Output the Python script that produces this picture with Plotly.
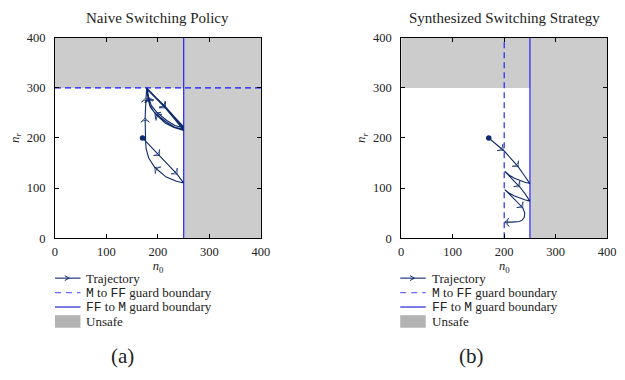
import plotly.graph_objects as go

# ---------------- data ----------------
axis_ticks = [0, 100, 200, 300, 400]
axis_max = 400

# Naive policy guards
naive_m_to_ff_nr = 300      # dashed horizontal guard (n_r)
naive_ff_to_m_n0 = 250      # solid vertical guard (n_0)
# Synthesized strategy guards
synth_m_to_ff_n0 = 200      # dashed vertical guard (n_0)
synth_ff_to_m_n0 = 250      # solid vertical guard (n_0)
# Unsafe region limits
unsafe_n0 = 250
unsafe_nr = 300

# Naive trajectory; arrow flags mark arrowhead positions
naive_x = [170, 186, 203, 220, 237, 250,
           236, 216, 194, 182, 177, 176, 175.5, 175, 176, 176.5, 178,
           196, 214, 232, 250,
           232, 216, 194, 184, 180.5, 178,
           196, 214, 232, 250,
           231, 214, 196, 185, 181, 179,
           197, 215, 233, 250,
           233, 217, 198, 187, 182, 179,
           197, 214, 232, 250]
naive_y = [200, 182.5, 165, 146.5, 128, 110,
           113.5, 122, 141, 160, 178, 193, 215, 240, 262, 280, 300,
           280, 262, 240, 217,
           222, 232, 250, 265, 280, 298,
           279, 260, 238, 215,
           221, 230, 247, 262, 278, 298,
           279, 261, 240, 220,
           225, 235, 251, 265, 281, 299,
           280, 263, 242, 222]
naive_arrow = [0, 0, 1, 0, 1, 0,
               0, 0, 1, 0, 0, 0, 0, 1, 0, 1, 0,
               0, 1, 0, 0,
               0, 0, 1, 0, 1, 0,
               0, 1, 0, 0,
               0, 0, 1, 0, 0, 0,
               0, 0, 0, 0,
               0, 0, 0, 0, 1, 0,
               0, 0, 0, 0]

# Synthesized trajectory
synth_x = [170, 185, 198, 201,
           214, 227, 239, 250,
           240, 230, 220, 210.8, 205, 201,
           215, 230, 240, 250,
           240, 230, 220, 211, 201,
           212, 224, 236, 240, 239, 235, 229.8, 215, 201]
synth_y = [200, 187, 175.5, 173,
           158, 142.7, 125, 109,
           111.5, 115.4, 119.5, 125, 129, 133.5,
           118.5, 102.6, 89.5, 74,
           76.5, 80, 84, 89, 97,
           86, 74, 60.8, 50, 41.6, 36, 33.3, 32, 32]
synth_arrow = [0, 0, 1, 0,
               0, 1, 0, 0,
               0, 0, 0, 0, 0, 0,
               0, 1, 0, 0,
               0, 0, 0, 0, 0,
               0, 0, 1, 0, 0, 0, 0, 0, 1]

titles = ["Naive Switching Policy", "Synthesized Switching Strategy"]
panel_labels = ["(a)", "(b)"]
MONO = "<span style='font-family:Liberation Mono'>%s</span>"
legend_names = ["Trajectory",
                MONO % "M" + " to " + MONO % "FF" + " guard boundary",
                MONO % "FF" + " to " + MONO % "M" + " guard boundary",
                "Unsafe"]

# ---------------- styles ----------------
FONT = "Liberation Serif"
TXT = "#222222"
TRAJ = "#0d2a6b"
GUARD = "#1414ff"
GUARD_LEG_DASH = "#6a6aff"
GUARD_LEG_SOLID = "#1010c8"
UNSAFE = "#cccccc"
UNSAFE_LEG = "#b3b3b3"
W, H = 625, 380

fig = go.Figure()


def add_panel(xa, ya, m2ff_kind, m2ff_val, ff2m_val, tx, ty, tarrow):
    ux = [0, unsafe_n0, unsafe_n0, axis_max, axis_max, 0, 0]
    uy = [unsafe_nr, unsafe_nr, 0, 0, axis_max, axis_max, unsafe_nr]
    fig.add_trace(go.Scatter(x=ux, y=uy, fill="toself", fillcolor=UNSAFE,
                             mode="lines", line=dict(width=0, color=UNSAFE),
                             name="Unsafe", showlegend=False,
                             xaxis=xa, yaxis=ya, hoverinfo="skip"))
    if m2ff_kind == "h":
        gx, gy = [0, axis_max], [m2ff_val, m2ff_val]
    else:
        gx, gy = [m2ff_val, m2ff_val], [0, axis_max]
    fig.add_trace(go.Scatter(x=gx, y=gy, mode="lines",
                             line=dict(color=GUARD, width=1.1, dash="6px,4px"),
                             showlegend=False, xaxis=xa, yaxis=ya, hoverinfo="skip"))
    fig.add_trace(go.Scatter(x=[ff2m_val, ff2m_val], y=[0, axis_max], mode="lines",
                             line=dict(color=GUARD, width=1.1),
                             showlegend=False, xaxis=xa, yaxis=ya, hoverinfo="skip"))
    sizes = [6 if a else 0 for a in tarrow]
    fig.add_trace(go.Scatter(x=tx, y=ty, mode="lines+markers",
                             line=dict(color=TRAJ, width=1.1),
                             marker=dict(symbol="arrow-wide-open", size=sizes,
                                         angleref="previous", color=TRAJ,
                                         line=dict(color=TRAJ, width=1)),
                             showlegend=False, xaxis=xa, yaxis=ya, hoverinfo="skip"))
    fig.add_trace(go.Scatter(x=tx[:1], y=ty[:1], mode="markers",
                             marker=dict(color=TRAJ, size=5.5),
                             showlegend=False, xaxis=xa, yaxis=ya, hoverinfo="skip"))


add_panel("x", "y", "h", naive_m_to_ff_nr, naive_ff_to_m_n0, naive_x, naive_y, naive_arrow)
add_panel("x2", "y2", "v", synth_m_to_ff_n0, synth_ff_to_m_n0, synth_x, synth_y, synth_arrow)

ydom = [1 - 240 / H, 1 - 32 / H]
doms = [[53 / W, 263 / W], [406 / W, 616 / W]]

axis_common = dict(range=[0, axis_max], tickvals=axis_ticks, ticks="inside", ticklen=4,
                   tickcolor="black", showline=True, linecolor="black", linewidth=1,
                   mirror="ticks", showgrid=False, zeroline=False,
                   tickfont=dict(family=FONT, size=12.5, color=TXT))

layout = dict(width=W, height=H, margin=dict(l=0, r=0, t=0, b=0),
              plot_bgcolor="white", paper_bgcolor="white", showlegend=False,
              font=dict(family=FONT, color=TXT))
for i, (xk, yk) in enumerate([("xaxis", "yaxis"), ("xaxis2", "yaxis2")]):
    layout[xk] = dict(axis_common, domain=doms[i], anchor="y" if i == 0 else "y2",
                      ticklabelstandoff=2,
                      title=dict(text="<i>n</i><sub>0</sub>", standoff=0,
                                 font=dict(family=FONT, size=12.5, color=TXT)))
    layout[yk] = dict(axis_common, domain=ydom, anchor="x" if i == 0 else "x2",
                      ticklabelstandoff=6,
                      title=dict(text="<i>n</i><sub><i>r</i></sub>", standoff=4,
                                 font=dict(family=FONT, size=13, color=TXT)))

# ---------------- compact legends (drawn as layout decorations) ----------------
def px(x):
    return x / W


def py(y):
    return 1 - y / H


shapes = []
annotations = []
row_y = [281.5, 296.5, 311.5, 326.5]
for x0 in [53, 405]:
    x1 = x0 + 26
    xc = x0 + 13
    shapes.append(dict(type="line", xref="paper", yref="paper", x0=px(x0), x1=px(x1),
                       y0=py(row_y[0]), y1=py(row_y[0]), line=dict(color=TRAJ, width=1.1)))
    shapes.append(dict(type="path", xref="paper", yref="paper",
                       path="M %f,%f L %f,%f L %f,%f" % (px(xc - 3), py(row_y[0] - 2.5),
                                                         px(xc + 1.5), py(row_y[0]),
                                                         px(xc - 3), py(row_y[0] + 2.5)),
                       line=dict(color=TRAJ, width=1)))
    shapes.append(dict(type="line", xref="paper", yref="paper", x0=px(x0), x1=px(x1),
                       y0=py(row_y[1]), y1=py(row_y[1]),
                       line=dict(color=GUARD_LEG_DASH, width=1.3, dash="6px,5px")))
    shapes.append(dict(type="line", xref="paper", yref="paper", x0=px(x0), x1=px(x1),
                       y0=py(row_y[2]), y1=py(row_y[2]),
                       line=dict(color=GUARD_LEG_SOLID, width=1.1)))
    shapes.append(dict(type="rect", xref="paper", yref="paper", x0=px(x0), x1=px(x1),
                       y0=py(row_y[3] + 6.5), y1=py(row_y[3] - 6.5),
                       fillcolor=UNSAFE_LEG, line=dict(width=0)))
    for name, ry in zip(legend_names, row_y):
        annotations.append(dict(text=name, x=px(x0 + 31), y=py(ry), xref="paper",
                                yref="paper", xanchor="left", yanchor="middle",
                                showarrow=False, borderpad=0,
                                font=dict(family=FONT, size=13, color=TXT)))

for i, t in enumerate(titles):
    annotations.append(dict(text=t, x=(doms[i][0] + doms[i][1]) / 2, y=py(11),
                            xref="paper", yref="paper", xanchor="center", yanchor="middle",
                            showarrow=False, font=dict(family=FONT, size=15, color=TXT)))
for lbl, cx in zip(panel_labels, [122, 478]):
    annotations.append(dict(text=lbl, x=px(cx), y=py(362), xref="paper", yref="paper",
                            xanchor="center", yanchor="middle", showarrow=False,
                            font=dict(family=FONT, size=21, color=TXT)))
layout["annotations"] = annotations
layout["shapes"] = shapes

fig.update_layout(**layout)
fig.write_html("out.html")
